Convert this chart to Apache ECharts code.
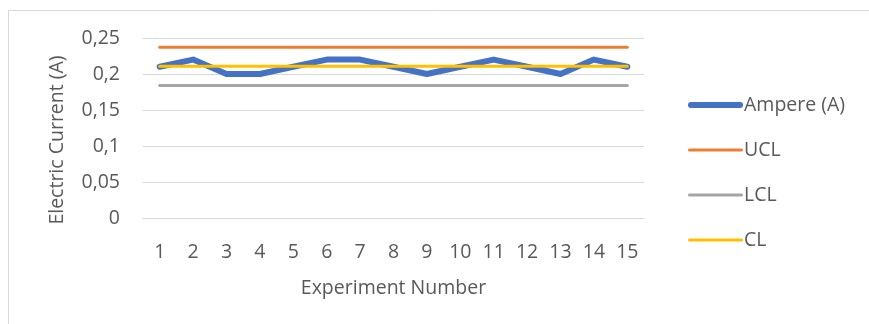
<!DOCTYPE html>
<html>
<head>
<meta charset="utf-8">
<script src="https://cdn.jsdelivr.net/npm/echarts@6/dist/echarts.min.js"></script>
<style>
  html, body { margin: 0; padding: 0; background: #fff; }
  #chart { width: 869px; height: 324px; }
</style>
</head>
<body>
<div id="chart"></div>
<script>
// Experiment numbers on the category axis
const experiments = ['1','2','3','4','5','6','7','8','9','10','11','12','13','14','15'];
// Measured current per experiment (A)
const ampere = [0.21, 0.22, 0.20, 0.20, 0.21, 0.22, 0.22, 0.21, 0.20, 0.21, 0.22, 0.21, 0.20, 0.22, 0.21];
// Control limits
const clValue = 0.2107;
const uclValue = 0.2373;
const lclValue = 0.1841;
const ucl = experiments.map(() => uclValue);
const lcl = experiments.map(() => lclValue);
const cl = experiments.map(() => clValue);

const FONT = 'Open Sans, Lato, sans-serif';
const TXT = '#595959';
const FS = 19.5;

const chart = echarts.init(document.getElementById('chart'), null, { renderer: 'canvas' });

function lineSeries(name, data, color, width) {
  return {
    name: name,
    type: 'line',
    data: data,
    symbol: 'none',
    lineStyle: { color: color, width: width, cap: 'round', join: 'round' },
    itemStyle: { color: color },
    emphasis: { disabled: true },
    animation: false
  };
}

const thinIcon = 'path://M2,1.5 L53,1.5 A1.5,1.5 0 0 1 53,4.5 L2,4.5 A1.5,1.5 0 0 1 2,1.5 Z';

chart.setOption({
  animation: false,
  backgroundColor: '#fff',
  graphic: [{
    type: 'rect',
    shape: { x: 8.5, y: 10.5, width: 900, height: 400 },
    style: { fill: 'none', stroke: '#d9d9d9', lineWidth: 1 },
    silent: true,
    z: -10
  }, {
    // y-axis title
    type: 'text',
    x: 57,
    y: 140,
    rotation: Math.PI / 2,
    style: {
      text: 'Electric Current (A)',
      fill: TXT,
      font: FS + 'px ' + FONT,
      align: 'center',
      verticalAlign: 'middle'
    },
    silent: true
  }],
  grid: { left: 143, top: 38, width: 501, height: 180, containLabel: false },
  legend: {
    orient: 'vertical',
    left: 683,
    top: 90,
    itemGap: 25,
    itemWidth: 55,
    itemHeight: 6,
    icon: 'path://M3,0 L52,0 A3,3 0 0 1 52,6 L3,6 A3,3 0 0 1 3,0 Z',
    textStyle: { color: TXT, fontFamily: FONT, fontSize: FS, padding: [0, 0, 0, -4] },
    data: [
      { name: 'Ampere (A)', itemStyle: { color: '#4472C4' } },
      { name: 'UCL', icon: thinIcon, itemStyle: { color: '#ED7D31' } },
      { name: 'LCL', icon: thinIcon, itemStyle: { color: '#A5A5A5' } },
      { name: 'CL', icon: thinIcon, itemStyle: { color: '#FFC000' } }
    ]
  },
  xAxis: {
    type: 'category',
    data: experiments,
    boundaryGap: true,
    name: 'Experiment Number',
    nameLocation: 'middle',
    nameGap: 60,
    nameTextStyle: { color: TXT, fontFamily: FONT, fontSize: FS },
    axisLine: { show: true, lineStyle: { color: '#d9d9d9', width: 1 } },
    axisTick: { show: false },
    axisLabel: { color: TXT, fontFamily: FONT, fontSize: FS, margin: 24 }
  },
  yAxis: {
    type: 'value',
    min: 0,
    max: 0.25,
    interval: 0.05,
    axisLine: { show: false },
    axisTick: { show: false },
    splitLine: { lineStyle: { color: '#d9d9d9', width: 1 } },
    axisLabel: {
      color: TXT, fontFamily: FONT, fontSize: FS, margin: 23,
      formatter: v => (Math.round(v * 100) / 100).toString().replace('.', ',')
    }
  },
  series: [
    lineSeries('Ampere (A)', ampere, '#4472C4', 6),
    lineSeries('UCL', ucl, '#ED7D31', 3),
    lineSeries('LCL', lcl, '#A5A5A5', 3),
    lineSeries('CL', cl, '#FFC000', 3)
  ]
});
</script>
</body>
</html>
